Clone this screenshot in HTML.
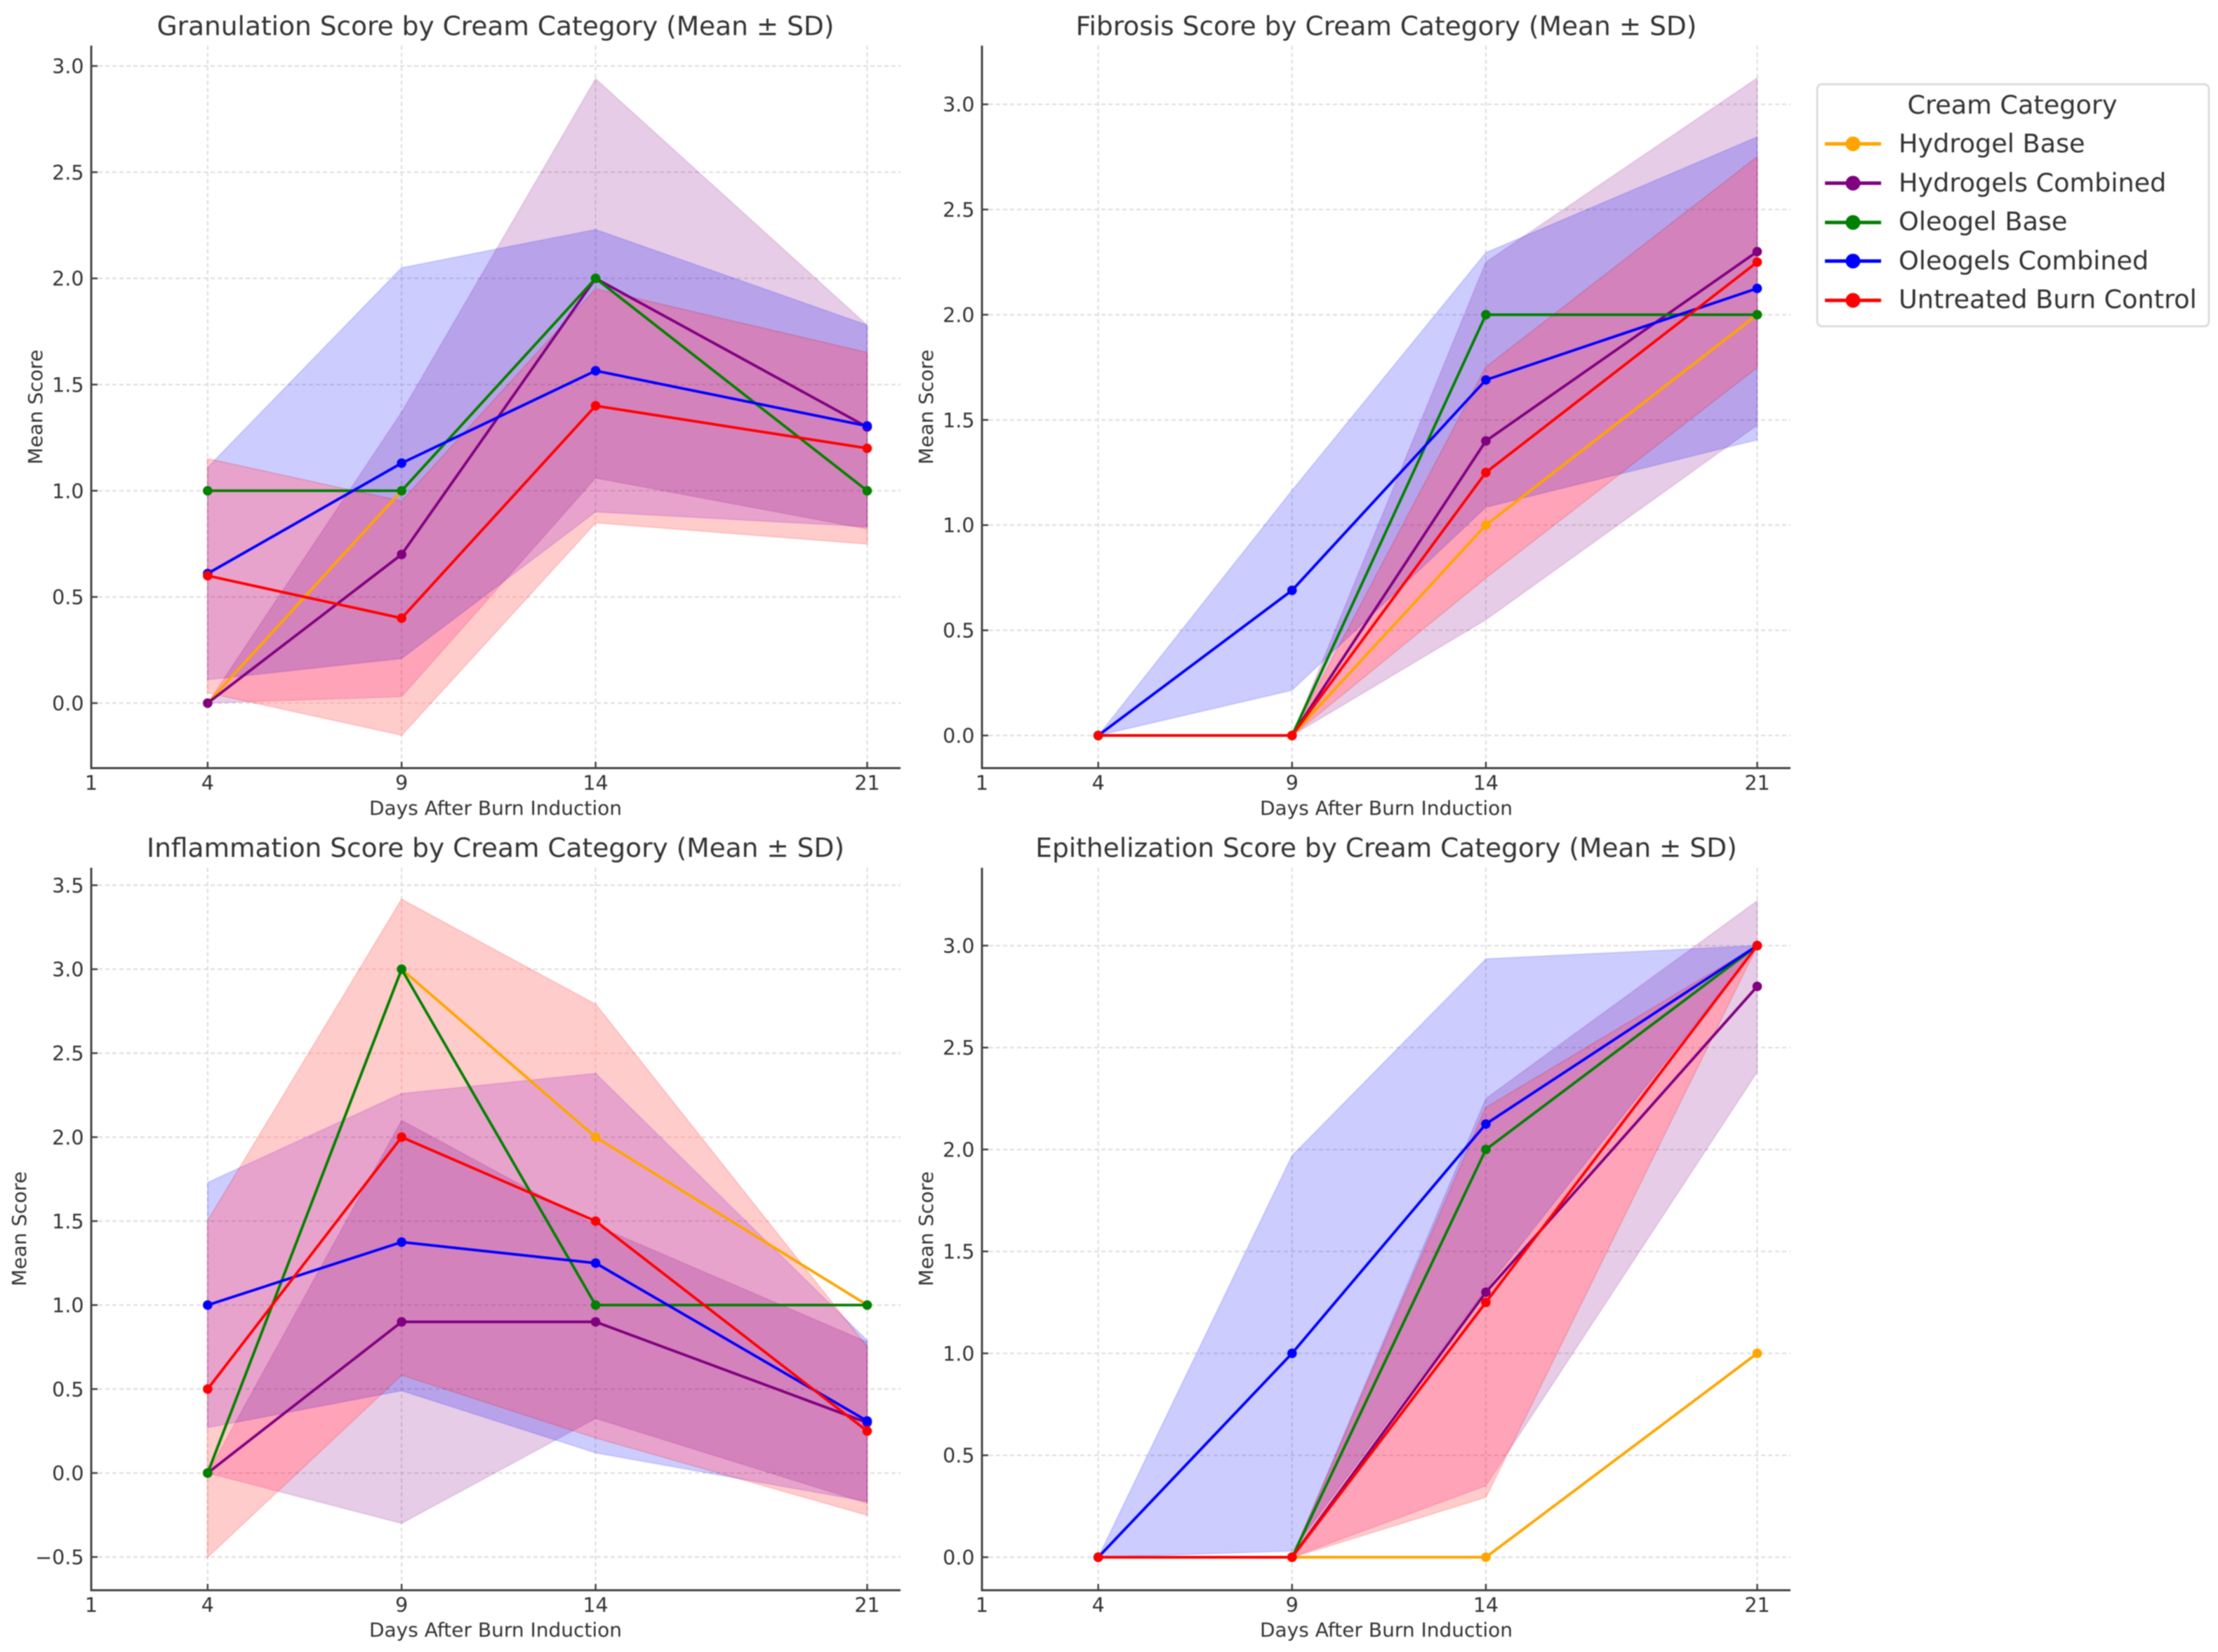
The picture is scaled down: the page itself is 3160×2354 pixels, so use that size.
<!DOCTYPE html>
<html lang="en">
<head>
<meta charset="utf-8">
<title>Wound Healing Scores by Cream Category</title>
<style>
html,body{margin:0;padding:0;background:#fff;}
body{width:3160px;height:2354px;overflow:hidden;}
svg{display:block;filter:blur(0.7px);}
text{font-family:"DejaVu Sans","Liberation Sans",sans-serif;fill:#333;}
.title{font-size:37.5px;text-anchor:middle;}
.axis-label{font-size:28px;text-anchor:middle;}
.tick{font-size:28.5px;}
.legend-text{font-size:36.6px;}
</style>
</head>
<body>
<svg id="figure" xmlns="http://www.w3.org/2000/svg" width="3160" height="2354" viewBox="0 0 3160 2354">
  <rect x="0" y="0" width="3160" height="2354" fill="#fff"/>

  <g id="panel-granulation"></g>
  <g id="panel-fibrosis"></g>
  <g id="panel-inflammation"></g>
  <g id="panel-epithelization"></g>

  <text class="title" x="706" y="50">Granulation Score by Cream Category (Mean ± SD)</text>
  <text class="title" x="1975" y="50">Fibrosis Score by Cream Category (Mean ± SD)</text>
  <text class="title" x="706" y="1221">Inflammation Score by Cream Category (Mean ± SD)</text>
  <text class="title" x="1975" y="1221">Epithelization Score by Cream Category (Mean ± SD)</text>

  <text class="axis-label" x="706" y="1161">Days After Burn Induction</text>
  <text class="axis-label" x="1975" y="1161">Days After Burn Induction</text>
  <text class="axis-label" x="706" y="2332">Days After Burn Induction</text>
  <text class="axis-label" x="1975" y="2332">Days After Burn Induction</text>

  <text class="axis-label" transform="translate(60 580) rotate(-90)">Mean Score</text>
  <text class="axis-label" transform="translate(1329 580) rotate(-90)">Mean Score</text>
  <text class="axis-label" transform="translate(37 1751) rotate(-90)">Mean Score</text>
  <text class="axis-label" transform="translate(1329 1751) rotate(-90)">Mean Score</text>

  <g>
    <rect x="2589" y="120" width="558" height="345" rx="7" ry="7" fill="#fff" stroke="#dcdcdc" stroke-width="3"/>
    <text class="legend-text" x="2867" y="162" text-anchor="middle">Cream Category</text>

    <g>
      <line x1="2600" x2="2680" y1="205" y2="205" stroke="orange" stroke-width="5"/>
      <circle cx="2640" cy="205" r="10.5" fill="orange"/>
      <text class="legend-text" x="2705" y="217">Hydrogel Base</text>
    </g>
    <g>
      <line x1="2600" x2="2680" y1="261" y2="261" stroke="purple" stroke-width="5"/>
      <circle cx="2640" cy="261" r="10.5" fill="purple"/>
      <text class="legend-text" x="2705" y="273">Hydrogels Combined</text>
    </g>
    <g>
      <line x1="2600" x2="2680" y1="317" y2="317" stroke="green" stroke-width="5"/>
      <circle cx="2640" cy="317" r="10.5" fill="green"/>
      <text class="legend-text" x="2705" y="328">Oleogel Base</text>
    </g>
    <g>
      <line x1="2600" x2="2680" y1="372" y2="372" stroke="blue" stroke-width="5"/>
      <circle cx="2640" cy="372" r="10.5" fill="blue"/>
      <text class="legend-text" x="2705" y="384">Oleogels Combined</text>
    </g>
    <g>
      <line x1="2600" x2="2680" y1="428" y2="428" stroke="red" stroke-width="5"/>
      <circle cx="2640" cy="428" r="10.5" fill="red"/>
      <text class="legend-text" x="2705" y="439">Untreated Burn Control</text>
    </g>
  </g>
</svg>

<script>
// Shared categories
const days = [4, 9, 14, 21];
const xTickLabels = [1, 4, 9, 14, 21];
const seriesNames = ["hydrogel-base", "hydrogels-combined", "oleogel-base", "oleogels-combined", "untreated-burn-control"];
const seriesColors = ["orange", "purple", "green", "blue", "red"];

// Granulation values (rows follow seriesNames)
const granulationMeans = [
  [0, 1, 2, 1],
  [0, 0.7, 2, 1.3],
  [1, 1, 2, 1],
  [0.61, 1.13, 1.565, 1.305],
  [0.6, 0.4, 1.4, 1.2]
];
const granulationSD = [
  [0, 0, 0, 0],
  [0, 0.67, 0.94, 0.48],
  [0, 0, 0, 0],
  [0.5, 0.92, 0.665, 0.475],
  [0.55, 0.55, 0.55, 0.45]
];
const granulationYTicks = [0, 0.5, 1, 1.5, 2, 2.5, 3];

// Fibrosis values
const fibrosisMeans = [
  [0, 0, 1, 2],
  [0, 0, 1.4, 2.3],
  [0, 0, 2, 2],
  [0, 0.69, 1.69, 2.125],
  [0, 0, 1.25, 2.25]
];
const fibrosisSD = [
  [0, 0, 0, 0],
  [0, 0, 0.85, 0.825],
  [0, 0, 0, 0],
  [0, 0.475, 0.605, 0.72],
  [0, 0, 0.5, 0.5]
];
const fibrosisYTicks = [0, 0.5, 1, 1.5, 2, 2.5, 3];

// Inflammation values
const inflammationMeans = [
  [0, 3, 2, 1],
  [0, 0.9, 0.9, 0.3],
  [0, 3, 1, 1],
  [1, 1.375, 1.25, 0.31],
  [0.5, 2, 1.5, 0.25]
];
const inflammationSD = [
  [0, 0, 0, 0],
  [0, 1.2, 0.575, 0.48],
  [0, 0, 0, 0],
  [0.73, 0.885, 1.13, 0.48],
  [1, 1.415, 1.29, 0.5]
];
const inflammationYTicks = [-0.5, 0, 0.5, 1, 1.5, 2, 2.5, 3, 3.5];

// Epithelization values
const epithelizationMeans = [
  [0, 0, 0, 1],
  [0, 0, 1.3, 2.8],
  [0, 0, 2, 3],
  [0, 1, 2.125, 3],
  [0, 0, 1.25, 3]
];
const epithelizationSD = [
  [0, 0, 0, 0],
  [0, 0, 0.95, 0.42],
  [0, 0, 0, 0],
  [0, 0.97, 0.81, 0],
  [0, 0, 0.955, 0]
];
const epithelizationYTicks = [0, 0.5, 1, 1.5, 2, 2.5, 3];

const SVG_NS = "http://www.w3.org/2000/svg";
const X_MIN = 1;
const X_MAX = 21.86;

function make(parent, tag, attrs) {
  const el = document.createElementNS(SVG_NS, tag);
  for (const k in attrs) el.setAttribute(k, attrs[k]);
  parent.appendChild(el);
  return el;
}

function formatTick(v) {
  const s = Math.abs(v).toFixed(1);
  return v < 0 ? "\u2212" + s : s;
}

function drawPanel(cfg) {
  const g = document.getElementById(cfg.id);
  const xScale = function (v) {
    return cfg.left + (v - X_MIN) / (X_MAX - X_MIN) * (cfg.right - cfg.left);
  };
  const yScale = function (v) {
    return cfg.bottom - (v - cfg.yMin) / (cfg.yMax - cfg.yMin) * (cfg.bottom - cfg.top);
  };

  // grid lines
  days.forEach(function (d) {
    const line = make(g, "line", {x1: xScale(d), x2: xScale(d), y1: cfg.top, y2: cfg.bottom, stroke: "#dcdcdc", "stroke-width": 2, "stroke-dasharray": "6 4"});
    
    
  });
  cfg.yTicks.forEach(function (v) {
    const line = make(g, "line", {x1: cfg.left, x2: cfg.right, y1: yScale(v), y2: yScale(v), stroke: "#dcdcdc", "stroke-width": 2, "stroke-dasharray": "6 4"});
    
    
  });

  // SD bands
  cfg.means.forEach(function (mean, s) {
    const sd = cfg.sd[s];
    if (sd.every(function (v) { return v === 0; })) return;
    const upper = days.map(function (d, i) { return xScale(d) + "," + yScale(mean[i] + sd[i]); });
    const lower = days.map(function (d, i) { return xScale(d) + "," + yScale(mean[i] - sd[i]); }).reverse();
    const pts = upper.concat(lower).join(" ");
    if (seriesColors[s] === "red") {
      // the reference's red band tints overlaps pink rather than muddying them
      const band = make(g, "polygon", {points: pts, fill: "#ffcccc", stroke: "#ffbcbc", "stroke-width": 2, style: "mix-blend-mode:multiply"});
      
      
      const glow = make(g, "polygon", {points: pts, fill: "#1c0000", style: "mix-blend-mode:plus-lighter"});
      
      
    } else {
      const band = make(g, "polygon", {points: pts, fill: seriesColors[s], "fill-opacity": 0.2, stroke: seriesColors[s], "stroke-opacity": 0.12, "stroke-width": 2});
      
      
    }
  });

  // mean lines and points
  cfg.means.forEach(function (mean, s) {
    const pts = days.map(function (d, i) { return xScale(d) + "," + yScale(mean[i]); }).join(" ");
    const line = make(g, "polyline", {points: pts, fill: "none", stroke: seriesColors[s], "stroke-width": 3.8, "stroke-linejoin": "round"});
    
    
    days.forEach(function (d, i) {
      const dot = make(g, "circle", {cx: xScale(d), cy: yScale(mean[i]), r: 6.8, fill: seriesColors[s]});
      
      
    });
  });

  // spines
  const spineColor = "#444";
  const leftSpine = make(g, "line", {x1: cfg.left, x2: cfg.left, y1: cfg.top, y2: cfg.bottom + 1.5, stroke: spineColor, "stroke-width": 3});
  
  
  const bottomSpine = make(g, "line", {x1: cfg.left, x2: cfg.right, y1: cfg.bottom, y2: cfg.bottom, stroke: spineColor, "stroke-width": 3});
  
  

  // x ticks
  xTickLabels.forEach(function (v) {
    const x = xScale(v);
    const mark = make(g, "line", {x1: x, x2: x, y1: cfg.bottom, y2: cfg.bottom - 9, stroke: spineColor, "stroke-width": 2.5});
    
    
    const label = make(g, "text", {x: x, y: cfg.bottom + 31, "text-anchor": "middle", "class": "tick"});
    
    
    label.textContent = String(v);
  });

  // y ticks
  cfg.yTicks.forEach(function (v) {
    const y = yScale(v);
    const mark = make(g, "line", {x1: cfg.left, x2: cfg.left + 9, y1: y, y2: y, stroke: spineColor, "stroke-width": 2.5});
    
    
    const label = make(g, "text", {x: cfg.left - 10.5, y: y + 10.5, "text-anchor": "end", "class": "tick"});
    
    
    label.textContent = formatTick(v);
  });
}

drawPanel({id: "panel-granulation", left: 130, right: 1283, top: 65, bottom: 1094.5, yMin: -0.306, yMax: 3.096, means: granulationMeans, sd: granulationSD, yTicks: granulationYTicks});
drawPanel({id: "panel-fibrosis", left: 1399, right: 2551, top: 65, bottom: 1094.5, yMin: -0.155, yMax: 3.279, means: fibrosisMeans, sd: fibrosisSD, yTicks: fibrosisYTicks});
drawPanel({id: "panel-inflammation", left: 130, right: 1283, top: 1236.5, bottom: 2266, yMin: -0.698, yMax: 3.604, means: inflammationMeans, sd: inflammationSD, yTicks: inflammationYTicks});
drawPanel({id: "panel-epithelization", left: 1399, right: 2551, top: 1236.5, bottom: 2266, yMin: -0.162, yMax: 3.382, means: epithelizationMeans, sd: epithelizationSD, yTicks: epithelizationYTicks});
</script>
</body>
</html>
